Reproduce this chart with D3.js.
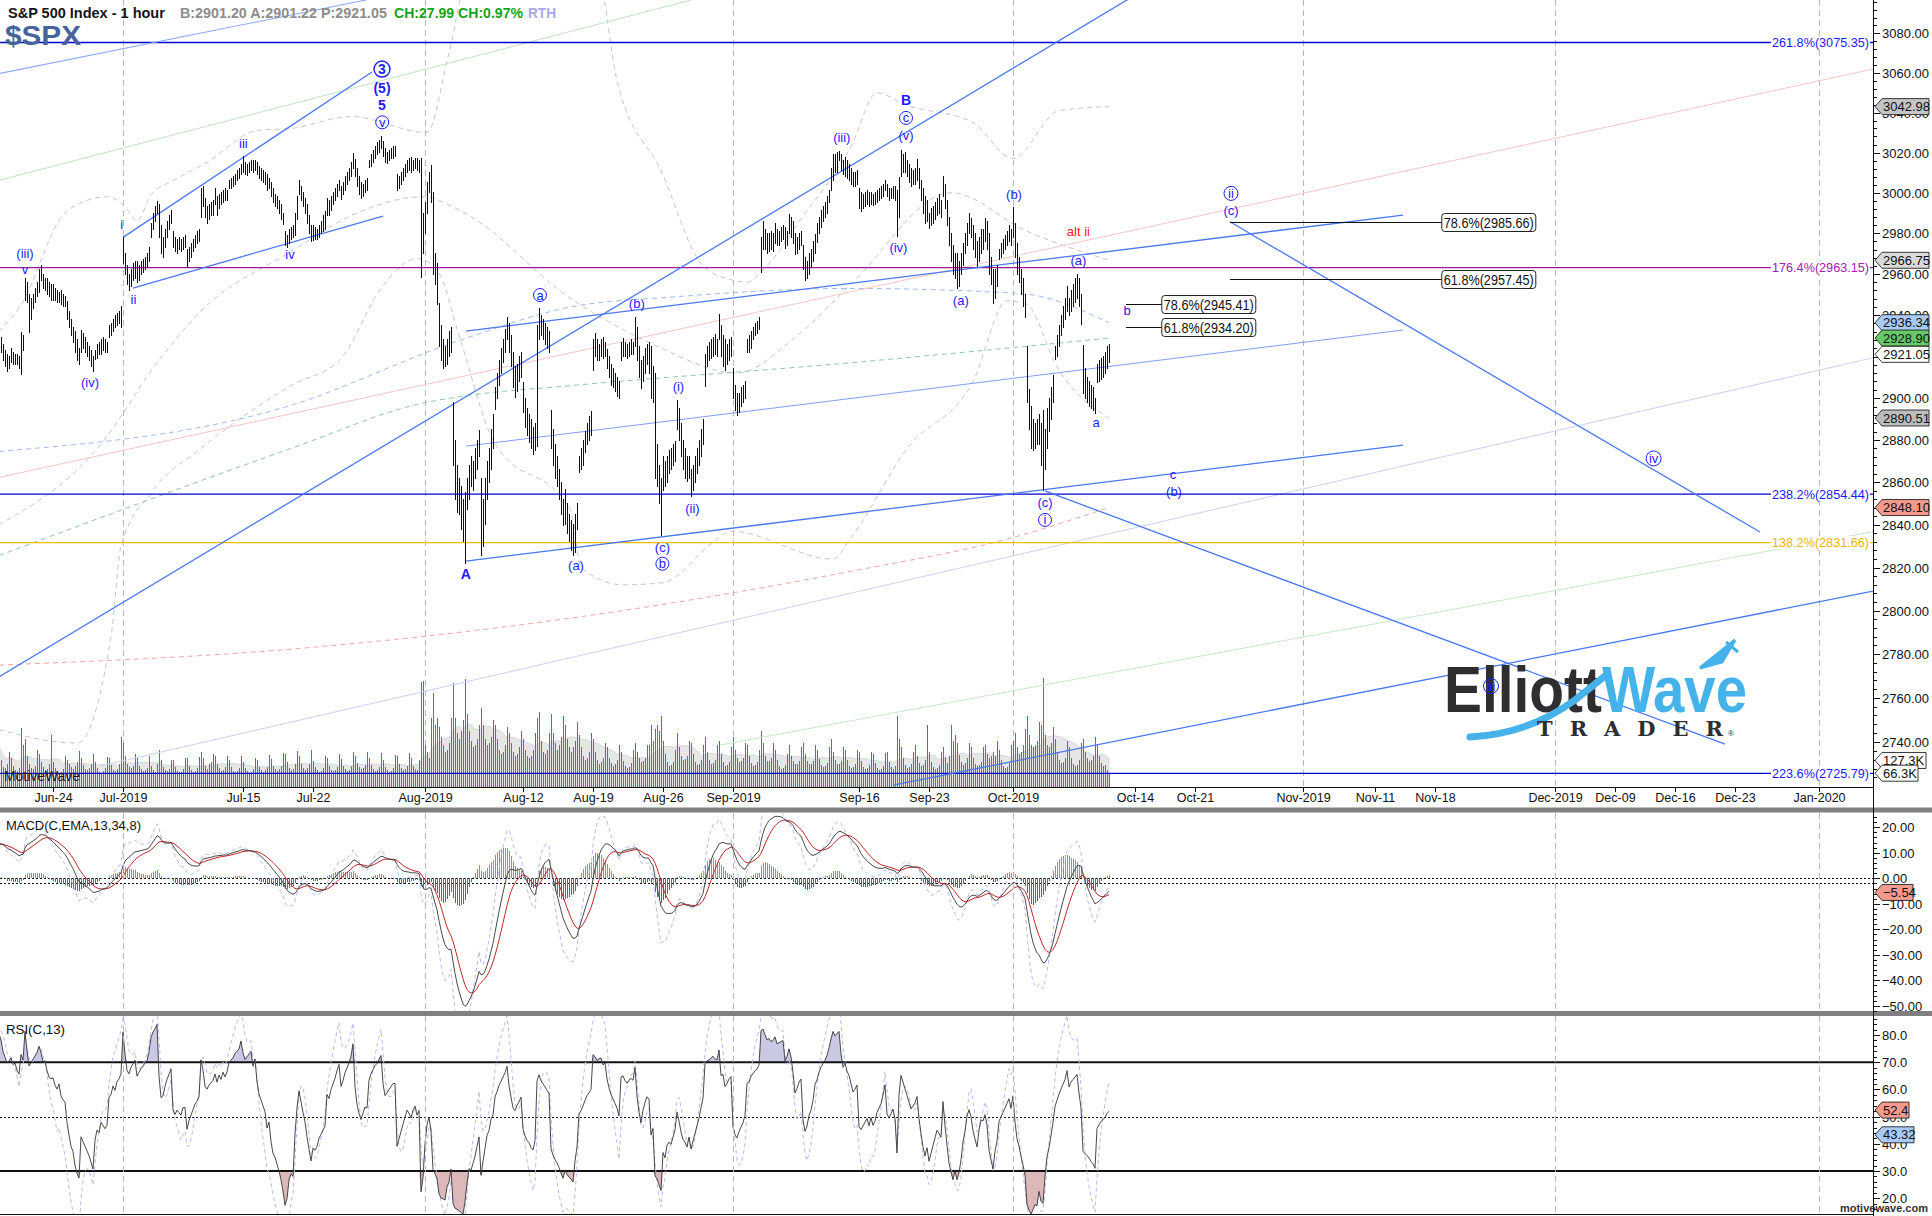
<!DOCTYPE html>
<html><head><meta charset="utf-8">
<script src="https://cdnjs.cloudflare.com/ajax/libs/d3/7.8.5/d3.min.js"></script>
<style>
html,body{margin:0;padding:0;background:#fff;}
svg{display:block;}
</style></head><body>
<svg id="chart" width="1932" height="1216"></svg>
<script>
// ---------------- sessions (regular trading hours, hourly bars) ----------------
const sessions = ["2019-06-18","2019-06-19","2019-06-20","2019-06-21","2019-06-24","2019-06-25","2019-06-26","2019-06-27","2019-06-28",
"2019-07-01","2019-07-02","2019-07-03","2019-07-05","2019-07-08","2019-07-09","2019-07-10","2019-07-11","2019-07-12","2019-07-15","2019-07-16","2019-07-17","2019-07-18","2019-07-19","2019-07-22","2019-07-23","2019-07-24","2019-07-25","2019-07-26","2019-07-29","2019-07-30","2019-07-31",
"2019-08-01","2019-08-02","2019-08-05","2019-08-06","2019-08-07","2019-08-08","2019-08-09","2019-08-12","2019-08-13","2019-08-14","2019-08-15","2019-08-16","2019-08-19","2019-08-20","2019-08-21","2019-08-22","2019-08-23","2019-08-26","2019-08-27","2019-08-28","2019-08-29","2019-08-30",
"2019-09-03","2019-09-04","2019-09-05","2019-09-06","2019-09-09","2019-09-10","2019-09-11","2019-09-12","2019-09-13","2019-09-16","2019-09-17","2019-09-18","2019-09-19","2019-09-20","2019-09-23","2019-09-24","2019-09-25","2019-09-26","2019-09-27","2019-09-30",
"2019-10-01","2019-10-02","2019-10-03","2019-10-04","2019-10-07","2019-10-08","2019-10-09"];

// hourly highs, one row per session
const hourHigh = [
[2912,2930.8,2929,2926,2923,2921,2920],[2924,2922,2921,2921,2920,2931.7,2930],[2958,2956,2950,2948,2950,2953,2956],[2962,2964.2,2960,2958,2958,2956,2955],
[2954.9,2953,2952,2951,2952,2950,2949],[2946.5,2942,2938,2934,2932,2928,2924],[2932.6,2931,2929,2927,2925,2923,2920],[2923,2926,2927,2928,2929.3,2928,2927],[2935,2936,2938,2940,2941,2942,2944],
[2977.9,2970,2964,2960,2962,2965,2966],[2966,2964,2966,2967,2968,2970,2973.2],[2985,2990,2993,2995.8],[2994,2984,2978,2982,2986,2989,2991],[2980.8,2978,2977,2978,2977,2978,2979],
[2972,2973,2975,2977,2979,2981,2981.9],[3002,3003,2997,2993,2994,2995,2996],[3002,2998,2999,3000,3001,3002.3,3001],[3006,3007,3008,3009,3011,3012,3013.9],
[3017.8,3015,3014,3015,3016,3016,3016],[3015,3013,3012,3011,3010,3009,3007],[3005.3,3002,2999,2998,2996,2994,2990],[2981,2979,2982,2983,2984,2990,2998.3],[3006,3003,3000,2997,2994,2989,2984],
[2984,2983,2982,2984,2986,2989,2990.7],[2997,2996,2998,3000,3002,3004,3005.9],[3003,3005,3008,3010,3012,3015,3019.6],[3016.3,3012,3008,3005,3004,3006,3007],[3016,3019,3021,3023,3025,3026,3028],
[3025.6,3022,3020,3021,3022,3023,3023],[3009,3008,3010,3012,3014,3016,3017.2],[3017.4,3016,3017,3017,3016,3017,2990],
[2995,3005,3010,3013.6,3000,2970,2965],[2945.5,2935,2928,2925,2928,2932,2934],[2898.1,2880,2868,2862,2858,2852,2855],[2862,2868,2872,2870,2876,2880,2884.4],[2862,2852,2862,2870,2876,2885,2892.2],
[2905,2912,2918,2924,2928,2933,2938.7],[2935.8,2930,2922,2915,2916,2920,2922],[2907.6,2900,2895,2892,2890,2886,2888],[2935,2943.3,2940,2938,2936,2934,2932],[2894.2,2885,2878,2872,2866,2860,2852],
[2856.7,2850,2845,2842,2840,2845,2850],[2872,2876,2880,2884,2888,2891,2893.6],[2928,2931,2928,2926,2928,2929,2927],[2923.6,2920,2916,2914,2912,2910,2908],[2927,2928.7,2927,2926,2927,2928,2927],
[2939.1,2934,2925,2918,2920,2924,2926],[2927,2925,2915,2912,2878,2868,2862],[2872,2870,2872,2875,2876,2878,2879.3],[2898.8,2895,2888,2880,2876,2872,2872],[2866,2868,2872,2876,2880,2885,2890],
[2921,2925,2927,2928,2929,2930.5,2928],[2940.4,2935,2930,2928,2926,2928,2929],
[2914.4,2906,2902,2902,2905,2906,2908],[2928,2930,2932,2934,2936,2937,2938.8],[2978,2985.9,2982,2980,2980,2981,2980],[2985,2982,2981,2983,2984,2983,2981],
[2989.4,2988,2986,2980,2978,2980,2981],[2974,2968,2966,2970,2972,2976,2979.4],[2985,2988,2991,2993,2995,2998,3000.9],[3012,3019,3019,3020,3020.7,3019,3016],[3017.3,3016,3014,3012,3010,3010,3011],
[3002.2,3000,2999,3000,3001,3000,3000],[2999,3000,3001,3002,3003,3004,3006.2],[3004,3002,3002,3003,3003,3001,3007.8],[3021.2,3019,3020,3016,3014,3012,3011],[3012,3016.4,3012,3006,3002,2998,2996],
[2990,2992,2993,2995,2997,2999.2,2996],[3008,3004,2996,2988,2980,2974,2970],[2970,2966,2970,2975,2980,2985,2989.8],[2987.3,2984,2980,2976,2978,2982,2982],[2987.3,2986,2980,2968,2962,2962,2964],
[2972,2975,2977,2979,2981,2983.9,2982],
[2992.5,2985,2975,2968,2962,2958,2950],[2924.8,2904,2896,2890,2888,2890,2892],[2888,2894,2885,2895,2900,2905,2911.1],[2925,2930,2935,2940,2944,2948,2953.7],
[2948,2952,2955,2958,2959.8,2958,2950],[2925.5,2914,2910,2908,2906,2905,2900],[2916,2918,2919,2920,2922,2925,2926]];

// hourly lows, one row per session
const hourLow = [
[2905,2909,2922,2918,2915,2913,2914],[2917,2916,2916,2916,2914,2911.4,2923],[2947,2946,2931.5,2938,2943,2946,2949],[2951,2957,2953,2952,2950,2949,2946.9],
[2947,2947,2946,2946,2945,2944.1,2944],[2938,2934,2930,2927,2922,2918,2916],[2922,2924,2922,2920,2918,2915,2913],[2918.6,2919,2921,2921,2923,2922,2922],[2929,2930,2932,2934,2935,2936,2934],
[2965,2960,2955,2952.2,2954,2957,2958],[2955.9,2957,2960,2961,2962,2963,2966],[2978,2982,2986,2990],[2978,2970,2968,2973,2978,2982,2985],[2973,2971,2970.1,2972,2971,2972,2973],
[2963.4,2966,2968,2971,2973,2975,2976],[2988,2993,2988,2984.6,2987,2989,2989],[2994,2988.8,2992,2994,2995,2996,2996],[3001.9,3002,3003,3004,3006,3007,3009],
[3010,3009,3008.8,3010,3011,3010,3011],[3009,3007,3006,3005,3004,3001.2,3002],[2998,2995,2993,2992,2990,2987,2984.3],[2974,2973.1,2975,2977,2978,2979,2987],[2999,2996,2993,2990,2985,2980,2975.9],
[2976.7,2977,2977,2978,2980,2981,2982],[2988.6,2989,2991,2994,2996,2998,3001],[2996.8,2999,3001,3004,3006,3008,3012],[3008,3003,2999,2997.2,2998,3000,3001],[3012.6,3013,3015,3017,3019,3020,3022],
[3018,3015,3014.3,3016,3017,3017,3018],[3000.9,3002,3004,3006,3008,3010,3011],[3010,3011,3012,3011,3010,2958.1,2970],
[2980,2990,3000,2995,2960,2955,2945.2],[2925,2918,2914.1,2915,2916,2920,2922],[2868,2852,2846,2845,2838,2832,2822.1],[2847.4,2852,2858,2856,2862,2866,2872],[2825.7,2830,2840,2852,2860,2866,2876],
[2894.5,2900,2906,2912,2917,2922,2928],[2922,2915,2905,2900.2,2903,2908,2910],[2893,2886,2882,2879,2876,2873.1,2875],[2877.1,2928,2930,2928,2926,2924,2922],[2876,2868,2862,2858,2852,2845,2839.6],
[2840,2836,2832,2828,2825.5,2827,2838],[2864.7,2866,2868,2874,2878,2880,2882],[2913.5,2920,2918,2918,2920,2919,2920],[2914,2910,2906,2905,2903,2901,2899.6],[2917.9,2920,2920,2919,2920,2921,2921],
[2925,2918,2910,2904.5,2908,2912,2916],[2912,2900,2898,2862,2858,2850,2835],[2856,2858,2860,2864,2866,2868,2870],[2885,2880,2872,2866,2862,2860.6,2862],[2853.1,2856,2860,2864,2868,2872,2878],
[2905.7,2915,2918,2919,2920,2921,2920],[2928,2920,2915,2913.3,2916,2918,2920],
[2900,2894,2891.9,2893,2896,2898,2900],[2921.9,2922,2924,2928,2930,2931,2933],[2960.6,2972,2972,2970,2971,2972,2971],[2975,2974,2974,2976,2977,2972.5,2974],
[2980,2978,2975,2969.4,2970,2972,2974],[2962,2957,2958,2960,2963,2966,2970],[2975.3,2980,2983,2986,2988,2990,2995],[3001,3006,3010,3010,3016,3011,3009],[3008,3007,3006,3004,3002.9,3003,3004],
[2992,2990.7,2992,2993,2994,2993,2994],[2993.7,2994,2995,2996,2997,2998,3001],[2998,2996,2997,2997,2996,2978.6,2988],[3008,3010,3010,3008,3005,3003.2,3004],[3004,3006,3002,2996,2990,2984.7,2986],
[2982.2,2984,2985,2987,2989,2990,2988],[2998,2992,2984,2974,2966,2960,2957.7],[2952.9,2954,2960,2964,2970,2974,2980],[2978,2972,2968,2963.7,2966,2970,2972],[2976,2972,2960,2955,2945.5,2948,2954],
[2967.1,2968,2970,2972,2974,2976,2974],
[2978,2968,2960,2956,2950,2944,2938.7],[2898,2885,2876,2874.9,2876,2878,2878],[2868,2855.9,2866,2876,2884,2890,2898],[2918.6,2920,2925,2930,2934,2938,2942],
[2940,2942,2944,2946,2948,2944,2935.7],[2902,2900,2898,2896,2895,2894,2892.7],[2907.4,2908,2909,2910,2912,2914,2917]];

// hourly closes, one row per session
const hourClose = [
[2910,2926,2924,2920,2918,2916,2917.75],[2920,2918,2919,2917,2916,2928,2926.5],[2955,2948,2942,2945,2948,2951,2954.2],[2960,2958,2955,2956,2953,2951,2950.5],
[2951,2949,2948,2950,2947,2946,2945.4],[2940,2936,2932,2930,2924,2920,2917.4],[2928,2926,2924,2922,2920,2917,2913.8],[2921,2924,2923,2926,2925,2924,2924.9],[2933,2934,2937,2936,2939,2940,2941.8],
[2968,2962,2957,2956,2960,2962,2964.3],[2960,2962,2964,2965,2967,2968,2973],[2983,2988,2991,2995.8],[2982,2974,2975,2980,2984,2987,2990.4],[2975,2973,2975,2974,2973,2976,2976],
[2968,2971,2973,2975,2977,2978,2979.6],[2998,2995,2990,2989,2991,2992,2993.1],[2996,2994,2997,2996,2999,2998,2999.9],[3004,3005,3006,3008,3009,3010,3013.8],
[3012,3011,3012,3013,3014,3012,3014.3],[3011,3009,3008,3007,3006,3003,3004],[3000,2997,2996,2994,2992,2989,2984.4],[2976,2977,2980,2981,2980,2988,2995.1],[3001,2998,2995,2992,2987,2982,2976.6],
[2980,2979,2980,2982,2983,2984,2985],[2994,2993,2996,2998,3000,3003,3005.5],[3001,3003,3006,3008,3010,3013,3019.6],[3010,3005,3002,3000,3002,3004,3003.7],[3014,3017,3019,3021,3022,3024,3025.9],
[3020,3017,3018,3019,3020,3021,3021],[3004,3006,3008,3010,3012,3014,3013.2],[3012,3014,3015,3013,3014,2976,2980.4],
[2993,3002,3006,2998,2965,2960,2953.6],[2930,2922,2920,2918,2924,2926,2932.1],[2872,2858,2855,2850,2845,2838,2844.7],[2855,2864,2862,2866,2870,2876,2881.8],[2835,2845,2855,2866,2870,2880,2884],
[2902,2908,2915,2920,2925,2930,2938.1],[2926,2918,2910,2908,2912,2915,2918.7],[2896,2890,2886,2884,2880,2878,2882.7],[2930,2938,2934,2932,2930,2928,2926.3],[2880,2872,2866,2862,2856,2848,2840.6],
[2845,2840,2836,2834,2830,2840,2847.6],[2870,2872,2876,2880,2884,2886,2888.7],[2925,2924,2922,2924,2925,2922,2923.7],[2917,2913,2910,2908,2906,2904,2900.5],[2924,2925,2923,2922,2924,2925,2924.4],
[2932,2922,2915,2910,2916,2920,2923],[2922,2905,2908,2868,2864,2856,2847.1],[2868,2862,2870,2872,2870,2874,2878.4],[2890,2884,2876,2870,2868,2864,2869.2],[2860,2864,2868,2872,2876,2882,2887.9],
[2918,2921,2922,2924,2926,2925,2924.6],[2934,2924,2925,2920,2922,2925,2926.5],
[2903,2898,2896,2899,2901,2903,2906.3],[2925,2926,2930,2932,2934,2935,2937.8],[2975,2978,2976,2974,2976,2975,2976],[2980,2978,2979,2980,2981,2976,2978.7],
[2984,2982,2978,2972,2974,2977,2978.4],[2965,2960,2962,2966,2968,2972,2979.4],[2982,2986,2989,2991,2993,2996,3000.9],[3008,3015,3014,3016,3018,3013,3009.6],[3012,3010,3009,3007,3005,3006,3007.4],
[2996,2995,2996,2997,2998,2996,2998],[2996,2997,2999,3000,3001,3003,3005.7],[3000,2999,3000,3001,2999,2990,3006.7],[3016,3014,3012,3010,3008,3006,3006.8],[3008,3010,3004,2999,2994,2990,2992.1],
[2986,2988,2990,2992,2994,2993,2991.8],[3002,2994,2986,2976,2970,2964,2966.6],[2960,2962,2966,2972,2976,2982,2984.9],[2982,2976,2972,2968,2974,2978,2977.6],[2980,2976,2964,2958,2952,2958,2961.8],
[2970,2972,2974,2976,2978,2980,2976.7],
[2982,2972,2964,2960,2954,2948,2940.3],[2902,2890,2880,2882,2884,2882,2887.6],[2872,2868,2880,2890,2895,2902,2910.6],[2922,2927,2932,2936,2940,2944,2952],
[2944,2948,2950,2952,2954,2946,2938.8],[2908,2906,2904,2902,2899,2897,2893.1],[2912,2914,2916,2917,2918,2920,2921.05]];

// hourly volume (thousands), one row per session
const hourVolume = [
[150,240,130,95,90,110,170],[140,100,80,75,90,285,200],[230,150,110,90,85,100,180],[160,120,95,80,85,110,250],
[120,90,75,65,70,85,150],[130,110,95,85,100,120,175],[140,105,85,80,90,110,160],[120,90,70,65,75,90,145],[140,105,80,75,85,110,240],
[210,150,110,95,90,100,160],[140,100,85,75,80,90,150],[100,80,70,110],[180,130,95,80,75,85,130],[130,95,75,70,70,85,140],
[140,100,80,70,75,90,145],[170,140,100,85,110,120,160],[150,110,90,75,80,95,150],[130,95,75,70,75,90,150],
[120,90,75,65,70,85,140],[130,95,80,70,80,95,155],[135,100,85,75,85,100,165],[160,120,90,80,85,110,175],[150,110,90,80,90,110,180],
[125,95,80,70,75,90,150],[140,100,80,75,80,95,160],[135,100,85,75,80,100,170],[150,115,95,85,90,105,170],[140,105,85,75,80,95,165],
[130,95,80,70,75,90,155],[150,110,90,80,85,100,165],[140,100,85,80,130,505,510],
[200,170,140,330,450,300,330],[290,240,200,170,180,210,330],[500,330,260,230,270,320,520],[350,270,220,190,200,230,300],[380,300,230,200,210,240,320],
[300,230,180,160,170,200,290],[260,210,170,150,160,190,270],[230,180,150,140,150,180,260],[330,360,220,170,160,180,260],[350,260,210,180,200,240,340],
[300,230,190,170,190,220,310],[250,190,150,130,140,170,260],[230,170,130,110,120,140,210],[190,140,115,100,110,130,200],[170,125,100,90,95,115,180],
[210,170,140,120,125,140,200],[200,300,220,280,300,270,340],[220,160,120,100,105,120,180],[260,190,150,130,135,150,220],[210,160,120,105,110,130,200],
[240,170,130,110,115,130,200],[220,160,120,100,105,120,190],
[240,180,140,120,125,140,210],[200,150,115,100,105,120,180],[270,210,150,125,125,140,210],[180,130,100,85,90,105,160],
[200,150,125,110,110,125,190],[210,160,125,110,110,125,200],[180,135,105,95,100,115,190],[230,170,130,110,110,125,190],[180,130,100,90,95,110,180],
[170,125,95,85,90,105,170],[160,115,90,80,85,100,165],[170,120,95,85,100,340,230],[190,140,105,90,95,110,170],[200,150,115,100,105,130,300],
[170,120,95,85,90,105,170],[190,145,115,150,300,220,250],[210,155,120,105,115,140,210],[190,140,110,100,105,120,190],[200,160,140,150,170,150,220],
[180,130,100,90,95,115,200],
[220,260,190,160,170,200,280],[340,250,200,190,200,220,310],[300,525,250,200,190,210,290],[230,170,130,115,120,140,220],
[190,140,110,100,105,130,210],[230,170,140,125,130,150,240],[200,150,115,100,105,80,66.3]];

const halfSessions = {"2019-07-03": 4};

// indicator state carried in from the sessions before the first bar
const priorClose = 2889.67;
const macdPrior = {fast: 2912, slow: 2898, signal: 13};
const rsiPrior = {gain: 2.6, loss: 1.4};
const rsiFastPrior = {gain: 3.0, loss: 1.3, smooth: 68};

// axis labels of the time axis
const xTickLabels = ["Jun-24","Jul-2019","Jul-15","Jul-22","Aug-2019","Aug-12","Aug-19","Aug-26","Sep-2019","Sep-16","Sep-23","Oct-2019","Oct-14","Oct-21","Nov-2019","Nov-11","Nov-18","Dec-2019","Dec-09","Dec-16","Dec-23","Jan-2020"];
const xTickDates = ["2019-06-24","2019-07-01","2019-07-15","2019-07-22","2019-08-01","2019-08-12","2019-08-19","2019-08-26","2019-09-03","2019-09-16","2019-09-23","2019-10-01","2019-10-14","2019-10-21","2019-11-01","2019-11-11","2019-11-18","2019-12-02","2019-12-09","2019-12-16","2019-12-23","2020-01-01"];
const monthStarts = ["2019-07-01","2019-08-01","2019-09-03","2019-10-01","2019-11-01","2019-12-02","2020-01-01"];

// price-axis, MACD-axis and RSI-axis ticks
const priceTicks = d3.range(2740, 3081, 20);
const macdTicks = [20, 10, 0, -10, -20, -30, -40, -50];
const rsiTicks = [80, 70, 60, 50, 40, 30, 20];

// Fibonacci levels across the chart
const fibLevels = [
  {label: "261.8%(3075.35)", value: 3075.35, color: "#0000d0", text: "#1a1aff"},
  {label: "176.4%(2963.15)", value: 2963.15, color: "#9a1a9a", text: "#a020b0"},
  {label: "238.2%(2854.44)", value: 2854.44, color: "#0000d0", text: "#1a1aff"},
  {label: "138.2%(2831.66)", value: 2831.66, color: "#f0c000", text: "#f0b400"},
  {label: "223.6%(2725.79)", value: 2725.79, color: "#0000d0", text: "#1a1aff"}
];
// retracement targets (bar index where the line starts / where the box sits)
const fibTargets = [
  {label: "78.6%(2985.66)", value: 2985.66, from: 616.5, to: 722.4},
  {label: "61.8%(2957.45)", value: 2957.45, from: 616.5, to: 722.4},
  {label: "78.6%(2945.41)", value: 2945.41, from: 564.5, to: 582.4},
  {label: "61.8%(2934.20)", value: 2934.20, from: 564.5, to: 582.4}
];

// trend lines as [bar index, price] pairs
const trendLines = [
  {a: [0, 2769.1], b: [570, 3100.1], c: "#4a78f0", w: 1.3},
  {a: [1.5, 3059.7], b: [184.5, 3097], c: "#8eaaf7", w: 1.1},
  {a: [63, 2978], b: [187.5, 3060.4], c: "#4a78f0", w: 1.3},
  {a: [68, 2953.2], b: [193, 2988.5], c: "#4a78f0", w: 1.3},
  {a: [234.5, 2932.3], b: [703, 2989.0], c: "#4a78f0", w: 1.3},
  {a: [234.5, 2877.1], b: [703, 2932.8], c: "#7f9ff6", w: 1},
  {a: [234.5, 2823.0], b: [703, 2877.6], c: "#4a78f0", w: 1.3},
  {a: [524, 2855.9], b: [864, 2739.0], c: "#4a78f0", w: 1.3},
  {a: [616.5, 2985.66], b: [881.5, 2836.6], c: "#4a78f0", w: 1.3},
  {a: [448, 2720.5], b: [938, 2809.1], c: "#4a78f0", w: 1.3}
];
const guideLines = [
  {a: [1.5, 3006.3], b: [347, 3097], c: "#bfe6bf"},
  {a: [1.5, 2862.4], b: [938, 3061.9], c: "#f6c6c6"},
  {a: [51.5, 2729.1], b: [938, 2919.4], c: "#cfcff6"},
  {a: [361.5, 2738.6], b: [938, 2836.8], c: "#c4ebc4"}
];

// daily Bollinger envelope and moving averages, [bar index, price]
const upperBand = [[1,2932],[12,2945],[33,2989],[42,2995],[55,2998],[65,2992],[70,2986],[77,2999],[88,3006],[105,3015],[130,3031],[147,3032],[177,3038],[215,3030],[226,3070],[236,3110],[300,3110],[310,3056],[332,3011],[353,2964],[368,2957],[375,2956],[383,2962],[402,2987],[427,3023],[440,3050],[454,3044],[488,3035],[508,3017],[531,3041],[556,3042.98]];
const midBand = [[1,2840],[52,2878],[80,2917],[102,2942],[147,2971],[180,2990],[213,2998],[232,2991],[287,2948],[330,2925],[370,2912],[400,2930],[427,2955],[477,3000],[515,2981],[556,2966.75]];
const lowerBand = [[1,2745.6],[40,2739.5],[57,2788],[62,2830],[77,2855],[102,2876],[147,2906],[172,2919],[192,2953],[210,2967.6],[220,2962],[232,2927],[248,2880],[287,2846.5],[292,2820],[313,2812],[333,2813],[357,2831],[367,2837],[418,2824],[427,2834],[455,2876],[488,2908],[505,2947],[515,2945],[530,2915],[556,2890.51]];
const maBlue = [[1,2874.6],[145,2896],[232,2928],[287,2944],[340,2949],[427,2953],[512,2950.5],[556,2936.34]];
const maGreen = [[1,2825.6],[147,2876],[212,2897.4],[232,2900.8],[287,2906],[427,2917],[556,2928.9]];
const maPink = [[1,2775],[147,2782.3],[287,2796.6],[427,2818.3],[505,2833.3],[556,2848.1]];

// wave labels, [bar index, price]
const waveLabels = [
  {t:"(iii)", at:[14,2970.3]}, {t:"v", at:[14,2962.2]}, {t:"(iv)", at:[46.5,2907.7]},
  {t:"i", at:[62.4,2984.6]}, {t:"ii", at:[68.2,2947.6]}, {t:"iii", at:[123.2,3024.6]}, {t:"iv", at:[146.5,2969.8]},
  {t:"3", at:[192.5,3061.9], circle:8, bold:true, size:14}, {t:"(5)", at:[192.5,3052.2], bold:true, size:14},
  {t:"5", at:[192.5,3043.7], bold:true, size:14}, {t:"v", at:[192.6,3035.1], circle:6.5},
  {t:"A", at:[234.4,2816.8], bold:true, size:14}, {t:"a", at:[271.5,2949.8], circle:6.5},
  {t:"(a)", at:[289.5,2820.8]}, {t:"(b)", at:[319.9,2945.6]}, {t:"(i)", at:[340.7,2905.4]}, {t:"(ii)", at:[347.7,2847.6]},
  {t:"(c)", at:[332.7,2829.4]}, {t:"b", at:[332.7,2821.8], circle:6.5},
  {t:"(iii)", at:[422.4,3027.5]}, {t:"B", at:[454.5,3046.4], bold:true, size:14}, {t:"c", at:[454.5,3037.3], circle:6.5},
  {t:"(v)", at:[454.5,3028.7]}, {t:"(iv)", at:[450.7,2973.0]}, {t:"(a)", at:[481.9,2947.1]}, {t:"(b)", at:[508.5,2999.4]},
  {t:"alt ii", at:[540.7,2980.9], color:"#ff2020"}, {t:"(a)", at:[540.7,2966.7]}, {t:"b", at:[565,2942.2]}, {t:"a", at:[549.5,2888.6]},
  {t:"(c)", at:[524,2850.5]}, {t:"i", at:[524,2842.3], circle:6.5}, {t:"c", at:[588,2863.9]}, {t:"(b)", at:[588.5,2855.5]},
  {t:"ii", at:[617,2999.7], circle:7}, {t:"(c)", at:[617,2991.4]}, {t:"iv", at:[828.3,2871.3], circle:7.5}, {t:"iii", at:[747,2765.4], circle:7.5}
];

// value tags on the right-hand axes
const priceTags = [
  {v: 3042.98, fill: "#c4c4c4"}, {v: 2966.75, fill: "#dadada"}, {v: 2936.34, fill: "#a9c9f7"},
  {v: 2928.90, fill: "#66c866"}, {v: 2921.05, fill: "#ffffff"}, {v: 2890.51, fill: "#bcbcbc"}, {v: 2848.10, fill: "#f4998c"}
];
const volumeTags = [{v: 127.3, fill: "#ffffff"}, {v: 66.3, fill: "#ffffff"}];
const macdTag = {v: -5.54, fill: "#f4998c"};
const macdLevels = [0, -2];
const rsiTags = [{v: 52.4, fill: "#f4998c"}, {v: 43.32, fill: "#a9c9f7"}];
const rsiLevels = {upper: 70, mid: 50, lower: 30};

// ---------------- calendar: bar index of every session ----------------
const calendar = [];
let slot = 0;
sessions.forEach(s => { const n = halfSessions[s] || 7; calendar.push({date: s, start: slot, n}); slot += n; });
const barCount = slot;
{
  const [y, m, d] = sessions[sessions.length - 1].split("-").map(Number);
  let t = Date.UTC(y, m - 1, d);
  while (slot < 1000) {
    t += 86400000;
    const wd = new Date(t).getUTCDay();
    if (wd === 0 || wd === 6) continue;
    calendar.push({date: new Date(t).toISOString().slice(0, 10), start: slot, n: 6});
    slot += 6;
  }
}
const dayStart = new Map(calendar.map(c => [c.date, c.start]));

const highs = hourHigh.flat(), lows = hourLow.flat(), closes = hourClose.flat(), vols = hourVolume.flat();

// ---------------- scales ----------------
const RIGHT = 1873;
const x = d3.scaleLinear().domain([0, 938]).range([-3, RIGHT]);
const yP = d3.scaleLog().domain([2719.7, 3097]).range([787, 0]);
const yV = d3.scaleLinear().domain([0, 600]).range([787, 662]);
const yM = d3.scaleLinear().domain([-52.0, 25.6]).range([1011, 813]);
const yR = d3.scaleLinear().domain([14.2, 87]).range([1214, 1016]);

// ---------------- indicators ----------------
const macd = [], signal = [], hist = [], macdLead = [];
{
  let ef = macdPrior.fast, es = macdPrior.slow, sg = macdPrior.signal;
  closes.forEach(c => {
    ef += (2 / 14) * (c - ef); es += (2 / 35) * (c - es);
    const m = ef - es; sg += (2 / 9) * (m - sg);
    macd.push(m); signal.push(sg); hist.push(m - sg); macdLead.push(m + 1.5 * (m - sg));
  });
}
function rsi(period, prior) {
  let g = prior.gain, l = prior.loss, prev = priorClose;
  return closes.map(c => {
    const ch = c - prev; prev = c;
    g = (g * (period - 1) + Math.max(ch, 0)) / period;
    l = (l * (period - 1) + Math.max(-ch, 0)) / period;
    return 100 - 100 / (1 + g / l);
  });
}
const rsi13 = rsi(13, rsiPrior);
// fast RSI, smoothed
const rsiFast = [];
{
  let s = rsiFastPrior.smooth;
  rsi(5, rsiFastPrior).forEach(v => { s += 0.32 * (v - s); rsiFast.push(s); });
}
const volAvg = vols.map((v, i) => d3.mean(vols.slice(Math.max(0, i - 19), i + 1)));

// ---------------- drawing ----------------
const FONT = "'Liberation Sans', Arial, Helvetica, sans-serif";
const svg = d3.select("#chart").attr("font-family", FONT);
const defs = svg.append("defs");
[["clipMain", 0, 787], ["clipMacd", 813, 198], ["clipRsi", 1016, 198]].forEach(([id, y0, h]) => {
  defs.append("clipPath").attr("id", id).append("rect").attr("x", 0).attr("y", y0).attr("width", RIGHT).attr("height", h);
});
svg.append("rect").attr("width", 1932).attr("height", 1216).attr("fill", "#fff");

const main = svg.append("g").attr("clip-path", "url(#clipMain)");
const macdG = svg.append("g").attr("clip-path", "url(#clipMacd)");
const rsiG = svg.append("g").attr("clip-path", "url(#clipRsi)");
const idx = d3.range(barCount);

// month grid
monthStarts.forEach(d => {
  const gx = Math.round(x(dayStart.get(d))) + 0.5;
  main.append("line").attr("x1", gx).attr("x2", gx).attr("y1", 0).attr("y2", 787)
    .attr("stroke", "#b8b8b8").attr("stroke-dasharray", "6,4");
  if (d !== "2019-11-01") {
    [[813, 1011], [1016, 1214]].forEach(([a, b]) => svg.append("line").attr("x1", gx).attr("x2", gx).attr("y1", a).attr("y2", b)
      .attr("stroke", "#b8b8b8").attr("stroke-dasharray", "6,4"));
  }
});

// volume average and volume bars
main.append("path").datum(idx)
  .attr("d", d3.area().x(i => x(i)).y0(yV(0)).y1(i => yV(volAvg[i])))
  .attr("fill", "#e6e6e6").attr("stroke", "#d2d2d2").attr("stroke-width", 0.8);
main.append("g").attr("shape-rendering", "crispEdges").selectAll("line").data(idx).join("line")
  .attr("x1", i => Math.round(x(i)) + 0.5).attr("x2", i => Math.round(x(i)) + 0.5)
  .attr("y1", yV(0)).attr("y2", i => yV(vols[i]))
  .attr("stroke", i => (closes[i] >= (i ? closes[i - 1] : priorClose)) ? "#2f9a2f" : "#f03a3a");

// moving averages and envelope
const pline = d3.line().x(d => x(d[0])).y(d => yP(d[1])).curve(d3.curveMonotoneX);
[[upperBand, "#c6c6c6"], [midBand, "#c6c6c6"], [lowerBand, "#c6c6c6"], [maBlue, "#9fbaf5"], [maGreen, "#8ccaa8"], [maPink, "#f4a4a4"]]
  .forEach(([pts, c]) => main.append("path").datum(pts).attr("d", pline).attr("fill", "none")
    .attr("stroke", c).attr("stroke-width", 1).attr("stroke-dasharray", "5,4"));

// pale guide lines
guideLines.forEach(l => main.append("line").attr("x1", x(l.a[0])).attr("y1", yP(l.a[1])).attr("x2", x(l.b[0])).attr("y2", yP(l.b[1]))
  .attr("stroke", l.c).attr("stroke-width", 1));

// horizontal Fibonacci levels
fibLevels.forEach(f => main.append("line").attr("x1", 0).attr("x2", RIGHT).attr("y1", yP(f.value)).attr("y2", yP(f.value))
  .attr("stroke", f.color).attr("stroke-width", 1.3));

// trend lines
trendLines.forEach(l => main.append("line").attr("x1", x(l.a[0])).attr("y1", yP(l.a[1])).attr("x2", x(l.b[0])).attr("y2", yP(l.b[1]))
  .attr("stroke", l.c).attr("stroke-width", l.w));

// price bars (high-low range)
main.append("g").attr("stroke", "#111").attr("shape-rendering", "crispEdges")
  .selectAll("line").data(idx).join("line")
  .attr("x1", i => Math.round(x(i)) + 0.5).attr("x2", i => Math.round(x(i)) + 0.5)
  .attr("y1", i => yP(highs[i]) - 0.5).attr("y2", i => yP(lows[i]) + 0.5)
  .attr("stroke-width", 1.2);

// level labels on the right
fibLevels.forEach(f => {
  const t = main.append("text").attr("x", RIGHT - 4).attr("y", yP(f.value) + 4.5).attr("text-anchor", "end")
    .attr("font-size", 13).attr("fill", f.text).attr("textLength", 97).attr("lengthAdjust", "spacingAndGlyphs").text(f.label);
  const bb = t.node().getBBox();
  main.insert("rect", () => t.node()).attr("x", bb.x - 1).attr("y", bb.y + 1).attr("width", bb.width + 2).attr("height", bb.height - 2).attr("fill", "#fff");
});

// retracement targets
fibTargets.forEach(f => {
  const yy = Math.round(yP(f.value)) + 0.5, x0 = x(f.from), x1 = x(f.to);
  main.append("line").attr("x1", x0).attr("x2", x1).attr("y1", yy).attr("y2", yy).attr("stroke", "#111").attr("stroke-width", 1);
  main.append("rect").attr("x", x1).attr("y", yy - 9).attr("width", 94).attr("height", 18).attr("rx", 3)
    .attr("fill", "#fff").attr("stroke", "#222").attr("stroke-width", 1);
  main.append("text").attr("x", x1 + 2).attr("y", yy + 5).attr("font-size", 14).attr("fill", "#111")
    .attr("textLength", 90).attr("lengthAdjust", "spacingAndGlyphs").text(f.label);
});

// logo
{
  const g = main.append("g");
  g.append("text").attr("x", 1444).attr("y", 712).attr("font-size", 64).attr("font-weight", "bold").attr("fill", "#2e2e30")
    .attr("textLength", 158).attr("lengthAdjust", "spacingAndGlyphs").text("Elliott");
  g.append("text").attr("x", 1602).attr("y", 712).attr("font-size", 64).attr("font-weight", "bold").attr("fill", "#45b2ea")
    .attr("textLength", 145).attr("lengthAdjust", "spacingAndGlyphs").text("Wave");
  g.append("path").attr("d", "M1470,737 C1510,735 1545,722 1575,700 L1605,676")
    .attr("fill", "none").attr("stroke", "#45b2ea").attr("stroke-width", 7).attr("stroke-linecap", "round");
  g.append("path").attr("d", "M1700,668 L1735,640 L1722,662 Z M1726,642 L1738,652").attr("fill", "#45b2ea").attr("stroke", "#45b2ea").attr("stroke-width", 3);
  g.append("text").attr("x", 1537).attr("y", 736).attr("font-size", 21).attr("font-weight", "bold").attr("fill", "#2e2e30")
    .attr("font-family", "'DejaVu Serif', serif").attr("textLength", 186).attr("lengthAdjust", "spacing").text("TRADER");
  g.append("text").attr("x", 1728).attr("y", 736).attr("font-size", 8).attr("fill", "#2e2e30").text("\u00AE");
}

// wave labels
waveLabels.forEach(w => {
  const cx = x(w.at[0]), cy = yP(w.at[1]);
  const col = w.color || "#1c1cff";
  if (w.circle) main.append("circle").attr("cx", cx).attr("cy", cy).attr("r", w.circle)
    .attr("fill", "none").attr("stroke", col).attr("stroke-width", w.bold ? 1.4 : 1);
  main.append("text").attr("x", cx).attr("y", cy).attr("dy", "0.35em").attr("text-anchor", "middle")
    .attr("font-size", w.size || 13).attr("font-weight", w.bold ? "bold" : "normal").attr("fill", col).text(w.t);
});

main.append("text").attr("x", 4).attr("y", 781).attr("font-size", 14).attr("fill", "#1a1a1a")
  .attr("textLength", 76).attr("lengthAdjust", "spacingAndGlyphs").text("MotiveWave");

// ---------------- MACD panel ----------------
macdLevels.forEach(v => macdG.append("line").attr("x1", 0).attr("x2", RIGHT).attr("y1", Math.round(yM(v)) + 0.5).attr("y2", Math.round(yM(v)) + 0.5)
  .attr("stroke", "#111").attr("stroke-width", 1.2).attr("stroke-dasharray", "2,2"));
macdG.append("g").attr("shape-rendering", "crispEdges").selectAll("line").data(idx).join("line")
  .attr("x1", i => Math.round(x(i)) + 0.5).attr("x2", i => Math.round(x(i)) + 0.5)
  .attr("y1", yM(0)).attr("y2", i => yM(hist[i]))
  .attr("stroke", i => hist[i] >= 0 ? "#5f9fd6" : "#e03434");
const mline = arr => d3.line().x(i => x(i)).y(i => yM(arr[i]));
macdG.append("path").datum(idx).attr("d", mline(macdLead)).attr("fill", "none").attr("stroke", "#b9b9f2").attr("stroke-dasharray", "4,3");
macdG.append("path").datum(idx).attr("d", mline(signal)).attr("fill", "none").attr("stroke", "#c02828").attr("stroke-width", 1);
macdG.append("path").datum(idx).attr("d", mline(macd)).attr("fill", "none").attr("stroke", "#4a4a4a").attr("stroke-width", 1);
svg.append("text").attr("x", 6).attr("y", 830).attr("font-size", 12).attr("fill", "#111")
  .attr("textLength", 135).attr("lengthAdjust", "spacingAndGlyphs").text("MACD(C,EMA,13,34,8)");

// ---------------- RSI panel ----------------
rsiG.append("path").datum(idx).attr("d", d3.area().x(i => x(i)).y0(yR(rsiLevels.upper)).y1(i => yR(Math.max(rsi13[i], rsiLevels.upper))))
  .attr("fill", "#c9c9e4");
rsiG.append("path").datum(idx).attr("d", d3.area().x(i => x(i)).y0(yR(rsiLevels.lower)).y1(i => yR(Math.min(rsi13[i], rsiLevels.lower))))
  .attr("fill", "#dcb8b8");
[rsiLevels.upper, rsiLevels.lower].forEach(v => rsiG.append("line").attr("x1", 0).attr("x2", RIGHT).attr("y1", yR(v)).attr("y2", yR(v))
  .attr("stroke", "#111").attr("stroke-width", 2));
rsiG.append("line").attr("x1", 0).attr("x2", RIGHT).attr("y1", Math.round(yR(rsiLevels.mid)) + 0.5).attr("y2", Math.round(yR(rsiLevels.mid)) + 0.5)
  .attr("stroke", "#111").attr("stroke-width", 1.2).attr("stroke-dasharray", "2,2");
const rline = arr => d3.line().x(i => x(i)).y(i => yR(arr[i]));
rsiG.append("path").datum(idx).attr("d", rline(rsiFast)).attr("fill", "none").attr("stroke", "#b9b9f2").attr("stroke-dasharray", "4,3");
rsiG.append("path").datum(idx).attr("d", rline(rsi13)).attr("fill", "none").attr("stroke", "#333").attr("stroke-width", 0.9);
svg.append("text").attr("x", 6).attr("y", 1034).attr("font-size", 12).attr("fill", "#111")
  .attr("textLength", 59).attr("lengthAdjust", "spacingAndGlyphs").text("RSI(C,13)");
svg.append("text").attr("x", 1928).attr("y", 1212).attr("text-anchor", "end").attr("font-size", 11).attr("font-weight", "bold")
  .attr("fill", "#333").text("motivewave.com");

// ---------------- frames and axes ----------------
svg.append("rect").attr("x", 0).attr("y", 807.5).attr("width", 1932).attr("height", 5).attr("fill", "#808080");
svg.append("rect").attr("x", 0).attr("y", 1011).attr("width", 1932).attr("height", 5).attr("fill", "#808080");
svg.append("line").attr("x1", 0).attr("x2", RIGHT).attr("y1", 787.5).attr("y2", 787.5).attr("stroke", "#111");
svg.append("line").attr("x1", 0).attr("x2", RIGHT).attr("y1", 1214.5).attr("y2", 1214.5).attr("stroke", "#111");
svg.append("line").attr("x1", RIGHT + 0.5).attr("x2", RIGHT + 0.5).attr("y1", 0).attr("y2", 1216).attr("stroke", "#111");

// time axis
xTickDates.forEach((d, k) => {
  const tx = Math.round(x(dayStart.get(d))) + 0.5;
  svg.append("line").attr("x1", tx).attr("x2", tx).attr("y1", 788).attr("y2", 792).attr("stroke", "#111");
  svg.append("text").attr("x", tx).attr("y", 802).attr("text-anchor", "middle").attr("font-size", 12.5).attr("fill", "#111").text(xTickLabels[k]);
});

function rightAxis(scale, ticks, minorStep, fmt, lo, hi) {
  d3.range(lo, hi + 0.001, minorStep).forEach(v => {
    const yy = Math.round(scale(v)) + 0.5;
    svg.append("line").attr("x1", RIGHT).attr("x2", RIGHT + 4).attr("y1", yy).attr("y2", yy).attr("stroke", "#111");
  });
  ticks.forEach(v => {
    const yy = Math.round(scale(v)) + 0.5;
    svg.append("line").attr("x1", RIGHT).attr("x2", RIGHT + 7).attr("y1", yy).attr("y2", yy).attr("stroke", "#111");
    svg.append("text").attr("x", RIGHT + 9).attr("y", yy + 4.5).attr("font-size", 13).attr("fill", "#111").text(fmt(v));
  });
}
rightAxis(yP, priceTicks, 4, d3.format(".2f"), 2724, 3096);
rightAxis(yM, macdTicks, 2, d3.format(".2f"), -52, 24);
rightAxis(yR, rsiTicks, 2, d3.format(".1f"), 16, 86);

function tag(yy, text, fill, w) {
  const x0 = RIGHT + 2, h = 16;
  svg.append("path").attr("d", `M${x0},${yy} L${x0 + 7},${yy - h / 2} L${x0 + w},${yy - h / 2} L${x0 + w},${yy + h / 2} L${x0 + 7},${yy + h / 2} Z`)
    .attr("fill", fill).attr("stroke", "#222").attr("stroke-width", 0.9);
  svg.append("text").attr("x", x0 + 8).attr("y", yy + 4.5).attr("font-size", 13).attr("fill", "#111").text(text);
}
priceTags.forEach(t => tag(yP(t.v), d3.format(".2f")(t.v), t.fill, 54));
volumeTags.forEach(t => tag(yV(t.v), d3.format(".1f")(t.v) + "K", t.fill, t.v >= 100 ? 51 : 43));
tag(yM(macdTag.v), d3.format(".2f")(macdTag.v), macdTag.fill, 38);
rsiTags.forEach(t => tag(yR(t.v), String(t.v), t.fill, t.v === 52.4 ? 34 : 39));

// header
svg.append("text").attr("x", 8).attr("y", 18).attr("font-size", 14.5).attr("font-weight", "bold").attr("fill", "#151515").text("S&P 500 Index - 1 hour");
svg.append("text").attr("x", 180).attr("y", 18).attr("font-size", 14.5).attr("font-weight", "bold").attr("fill", "#8c8c8c")
  .attr("textLength", 207).attr("lengthAdjust", "spacingAndGlyphs").text("B:2901.20 A:2901.22 P:2921.05");
svg.append("text").attr("x", 394).attr("y", 18).attr("font-size", 14.5).attr("font-weight", "bold").attr("fill", "#17a317")
  .attr("textLength", 129).attr("lengthAdjust", "spacingAndGlyphs").text("CH:27.99 CH:0.97%");
svg.append("text").attr("x", 528).attr("y", 18).attr("font-size", 14.5).attr("font-weight", "bold").attr("fill", "#a9a9f2")
  .attr("textLength", 28).attr("lengthAdjust", "spacingAndGlyphs").text("RTH");
svg.append("text").attr("x", 5).attr("y", 45).attr("font-size", 27).attr("font-weight", "bold").attr("fill", "#46639b")
  .attr("textLength", 76).attr("lengthAdjust", "spacingAndGlyphs").text("$SPX");
</script></body></html>
